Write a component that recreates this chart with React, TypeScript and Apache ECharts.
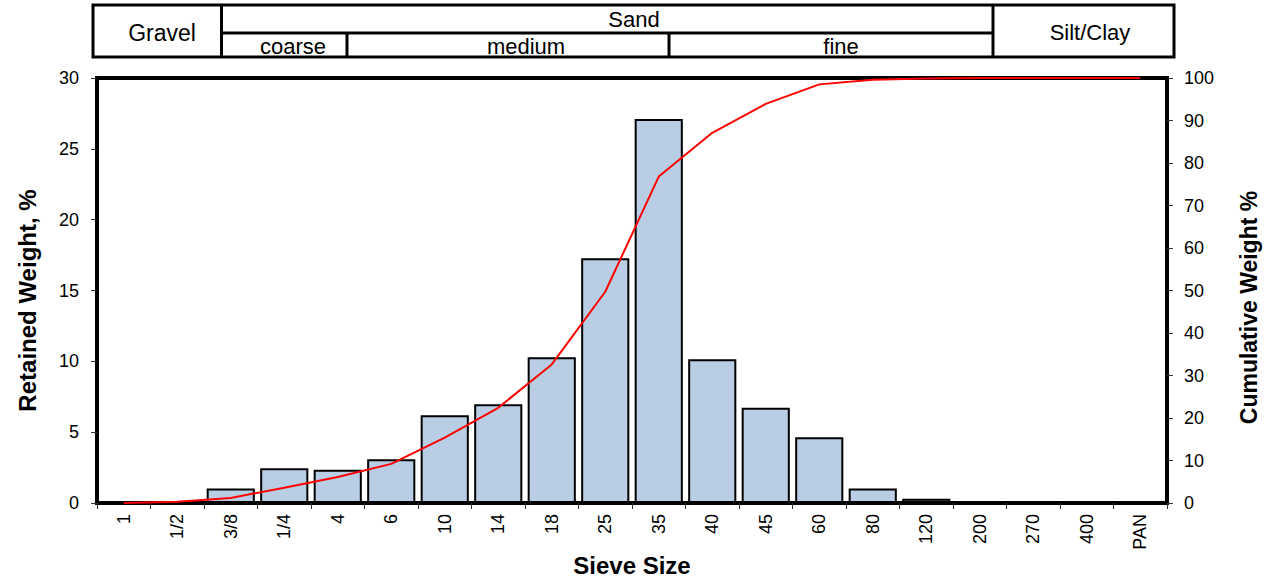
import React, { useEffect, useRef } from "react";
import * as echarts from "echarts";

const sieveSizes = ["1", "1/2", "3/8", "1/4", "4", "6", "10", "14", "18", "25", "35", "40", "45", "60", "80", "120", "200", "270", "400", "PAN"];
const retainedWeight = [0, 0, 1.03, 2.45, 2.35, 3.08, 6.2, 6.97, 10.28, 17.27, 27.1, 10.15, 6.72, 4.65, 1.03, 0.3, 0.06, 0.03, 0.03, 0.03];
const cumulativeWeight = [0, 0.3, 1.2, 3.6, 6.1, 9.2, 15.4, 22.4, 32.6, 49.7, 76.8, 87.1, 93.9, 98.5, 99.6, 99.9, 100, 100, 100, 100];
const leftTicks = { min: 0, max: 30, interval: 5 };
const rightTicks = { min: 0, max: 100, interval: 10 };

const FONT = "Liberation Sans, Arial, sans-serif";

export default function App() {
  const ref = useRef<HTMLDivElement>(null);
  useEffect(() => {
    document.body.style.margin = "0";
    const chart = echarts.init(ref.current!, null, { renderer: "svg" });
    const hdrStroke = { stroke: "#000", lineWidth: 3 };
    const txt = (text: string, x: number, y: number, size = 22) => ({
      type: "text",
      x,
      y,
      style: { text, fill: "#000", font: `${size}px ${FONT}`, align: "center", verticalAlign: "middle" },
    });
    const ln = (x1: number, y1: number, x2: number, y2: number) => ({
      type: "line",
      shape: { x1, y1, x2, y2 },
      style: hdrStroke,
    });
    const nameStyle = { fontSize: 23, fontWeight: "bold", color: "#000", fontFamily: FONT };
    chart.setOption({
      animation: false,
      backgroundColor: "#fff",
      textStyle: { fontFamily: FONT },
      grid: {
        left: 97,
        right: 101,
        top: 78,
        bottom: 74,
        containLabel: false,
        outerBoundsMode: "none",
        show: true,
        borderColor: "#000",
        borderWidth: 4,
        backgroundColor: "transparent",
      },
      graphic: [
        { type: "rect", shape: { x: 93, y: 5, width: 1081, height: 52 }, style: { fill: "#fff", ...hdrStroke } },
        ln(221.5, 5, 221.5, 57),
        ln(993, 5, 993, 57),
        ln(221.5, 33, 993, 33),
        ln(347, 33, 347, 57),
        ln(669, 33, 669, 57),
        txt("Gravel", 162, 33, 23),
        txt("Sand", 634, 19),
        txt("Silt/Clay", 1090, 32),
        txt("coarse", 293, 46),
        txt("medium", 526, 46),
        txt("fine", 841, 46),
      ],
      xAxis: {
        type: "category",
        data: sieveSizes,
        boundaryGap: true,
        name: "Sieve Size",
        nameLocation: "middle",
        nameGap: 50,
        nameMoveOverlap: false,
        nameTextStyle: { ...nameStyle, fontSize: 24 },
        axisLine: { lineStyle: { color: "#000", width: 4 } },
        axisTick: { show: true, length: 6, lineStyle: { color: "#333", width: 1 }, alignWithLabel: false },
        axisLabel: { rotate: 90, fontSize: 18, color: "#000", margin: 11, fontFamily: FONT },
        splitLine: { show: false },
      },
      yAxis: [
        {
          type: "value",
          ...leftTicks,
          position: "left",
          name: "Retained Weight, %",
          nameLocation: "middle",
          nameRotate: 90,
          nameGap: 58,
          nameMoveOverlap: false,
          nameTextStyle: { ...nameStyle, fontSize: 24, padding: [0, 20, 0, 0] },
          axisLine: { show: true, lineStyle: { color: "#000", width: 4 } },
          axisTick: { show: true, length: 6, lineStyle: { color: "#333", width: 1 } },
          axisLabel: { fontSize: 18, color: "#000", margin: 18, fontFamily: FONT },
          splitLine: { show: false },
        },
        {
          type: "value",
          ...rightTicks,
          position: "right",
          name: "Cumulative Weight %",
          nameLocation: "middle",
          nameRotate: 90,
          nameGap: 70,
          nameMoveOverlap: false,
          nameTextStyle: { ...nameStyle, padding: [0, 34, 0, 0] },
          axisLine: { show: true, lineStyle: { color: "#000", width: 4 } },
          axisTick: { show: true, length: 6, lineStyle: { color: "#333", width: 1 } },
          axisLabel: { fontSize: 18, color: "#000", margin: 17, fontFamily: FONT },
          splitLine: { show: false },
        },
      ],
      series: [
        {
          type: "bar",
          data: retainedWeight,
          yAxisIndex: 0,
          barCategoryGap: "10%",
          itemStyle: { color: "#b9cde4", borderColor: "#000", borderWidth: 2 },
        },
        {
          type: "line",
          data: cumulativeWeight,
          yAxisIndex: 1,
          showSymbol: false,
          symbol: "none",
          lineStyle: { color: "#ff0000", width: 2 },
          z: 3,
        },
      ],
    });
    return () => chart.dispose();
  }, []);
  return <div ref={ref} style={{ width: 1268, height: 577 }} />;
}
